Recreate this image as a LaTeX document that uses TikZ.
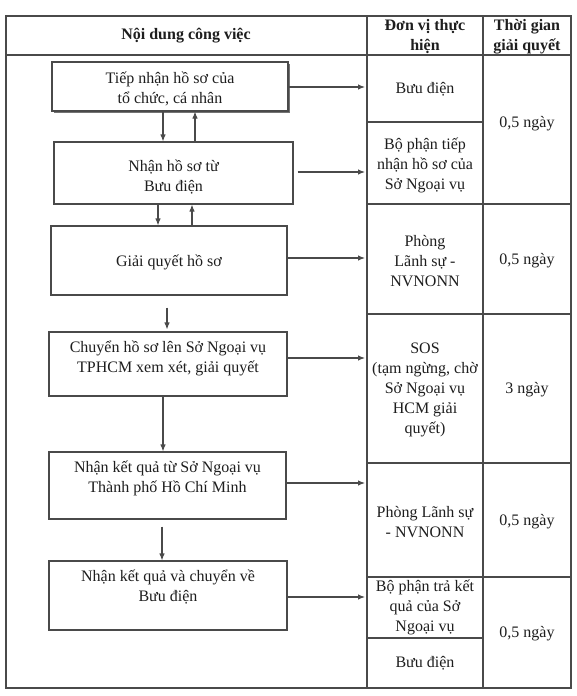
\documentclass[tikz,border=0pt]{standalone}
\usepackage{fontspec}
\setmainfont{Liberation Serif}
\usetikzlibrary{arrows.meta,shadows}
\definecolor{linec}{HTML}{4A4A4A}
\definecolor{textc}{HTML}{1E1E1E}
\begin{document}
\begin{tikzpicture}[x=1pt,y=-1pt,
  box/.style={draw=linec,line width=1.1pt,inner sep=0pt,fill=white},
  txt/.style={font=\fontsize{16}{20}\selectfont,align=center,text=textc,inner sep=0pt},
  head/.style={font=\bfseries\fontsize{16}{20}\selectfont,align=center,text=textc,inner sep=0pt},
  arr/.style={-{Latex[length=7pt,width=5.5pt]},line width=1.1pt,draw=linec},
  grid/.style={draw=linec,line width=1.1pt}]
\useasboundingbox (0,0) rectangle (576,696);
\fill[white] (0,0) rectangle (576,696);
% table
\draw[grid] (6,16) rectangle (571,688);
\draw[grid] (6,55) -- (571,55);
\draw[grid] (367,16) -- (367,688);
\draw[grid] (483,16) -- (483,688);
\foreach \y in {122,638} \draw[grid] (367,\y) -- (483,\y);
\foreach \y in {204,314,463,577} \draw[grid] (367,\y) -- (571,\y);
% headers
\node[head] (h1) at (186,36) {Nội dung công việc};
\node[head] (h2) at (425,37) {Đơn vị thực\\hiện};
\node[head] (h3) at (527,37) {Thời gian\\giải quyết};
% column 2
\node[txt] (u1) at (425,89) {Bưu điện};
\node[txt] (u2) at (425,165) {Bộ phận tiếp\\nhận hồ sơ của\\Sở Ngoại vụ};
\node[txt] (u3) at (425,261) {Phòng\\Lãnh sự -\\NVNONN};
\node[txt] (u4) at (425,390) {SOS\\(tạm ngừng, chờ\\Sở Ngoại vụ\\HCM giải\\quyết)};
\node[txt] (u5) at (425,522) {Phòng Lãnh sự\\- NVNONN};
\node[txt] (u6) at (425,607) {Bộ phận trả kết\\quả của Sở\\Ngoại vụ};
\node[txt] (u7) at (425,663) {Bưu điện};
% column 3
\node[txt] (t1) at (527,124) {0,5 ngày};
\node[txt] (t2) at (527,261) {0,5 ngày};
\node[txt] (t3) at (527,390) {3 ngày};
\node[txt] (t4) at (527,522) {0,5 ngày};
\node[txt] (t5) at (527,634) {0,5 ngày};
% boxes
\node[box,minimum width=236pt,minimum height=49pt,drop shadow={shadow xshift=1.5pt,shadow yshift=-2pt,fill=black!55,opacity=1}] (b1) at (170,86.5) {};
\node[box,minimum width=239pt,minimum height=62pt] (b2) at (173.5,173) {};
\node[box,minimum width=236pt,minimum height=69pt] (b3) at (169,260.5) {};
\node[box,minimum width=238pt,minimum height=64pt] (b4) at (168,364) {};
\node[box,minimum width=237pt,minimum height=67pt] (b5) at (167.5,485.5) {};
\node[box,minimum width=238pt,minimum height=69pt] (b6) at (168,595.5) {};
\node[txt] (l1) at (170,89) {Tiếp nhận hồ sơ của\\tổ chức, cá nhân};
\node[txt] (l2) at (173.5,177) {Nhận hồ sơ từ\\Bưu điện};
\node[txt] (l3) at (169,262) {Giải quyết hồ sơ};
\node[txt] (l4) at (168,358) {Chuyển hồ sơ lên Sở Ngoại vụ\\TPHCM xem xét, giải quyết};
\node[txt] (l5) at (167.5,478) {Nhận kết quả từ Sở Ngoại vụ\\Thành phố Hồ Chí Minh};
\node[txt] (l6) at (168,587) {Nhận kết quả và chuyển về\\Bưu điện};
% vertical arrow columns
\coordinate (x1) at (163,0);
\coordinate (x2) at (195,0);
\coordinate (x3) at (158,0);
\coordinate (x4) at (192,0);
\coordinate (x5) at (167,0);
\coordinate (x6) at (163,0);
\coordinate (x7) at (162,0);
\coordinate (colL) at (365,0);
\draw[arr] (b1.south -| x1) -- (b2.north -| x1);
\draw[arr] (b2.north -| x2) -- (b1.south -| x2);
\draw[arr] (b2.south -| x3) -- (b3.north -| x3);
\draw[arr] (b3.north -| x4) -- (b2.south -| x4);
\draw[arr,shorten <=12pt,shorten >=2pt] (b3.south -| x5) -- (b4.north -| x5);
\draw[arr] (b4.south -| x6) -- (b5.north -| x6);
\draw[arr,shorten <=7pt] (b5.south -| x7) -- (b6.north -| x7);
% horizontal arrows
\coordinate (y1) at (0,87);
\coordinate (y2) at (0,172);
\coordinate (y3) at (0,258);
\coordinate (y4) at (0,358);
\coordinate (y5) at (0,483);
\coordinate (y6) at (0,597);
\draw[arr] (b1.east |- y1) -- (colL |- y1);
\draw[arr,shorten <=4pt] (b2.east |- y2) -- (colL |- y2);
\draw[arr] (b3.east |- y3) -- (colL |- y3);
\draw[arr] (b4.east |- y4) -- (colL |- y4);
\draw[arr] (b5.east |- y5) -- (colL |- y5);
\draw[arr] (b6.east |- y6) -- (colL |- y6);
\end{tikzpicture}
\end{document}
